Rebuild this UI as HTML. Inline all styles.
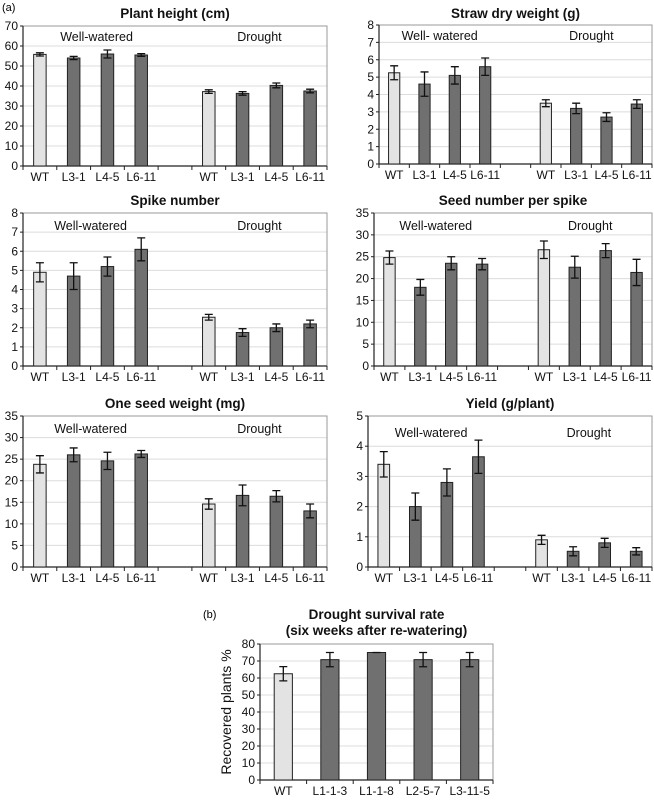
<!DOCTYPE html>
<html><head><meta charset="utf-8"><style>
body{margin:0;background:#fff;}
svg{display:block;font-family:"Liberation Sans",Arial,sans-serif;}
</style></head><body>
<svg id="fig" width="654" height="800" viewBox="0 0 654 800" xmlns="http://www.w3.org/2000/svg">
<text x="2" y="11" font-size="11">(a)</text>
<text x="203" y="618" font-size="11">(b)</text>
</svg>
<script>
const lineCats = ["WT","L3-1","L4-5","L6-11","","WT","L3-1","L4-5","L6-11"];
const heightVals = [55.8,54,56,55.5,null,37.2,36.3,40.3,37.5];
const heightErr = [0.8,0.8,2,0.7,null,0.9,0.9,1.2,0.9];
const strawVals = [5.25,4.6,5.1,5.6,null,3.5,3.2,2.7,3.45];
const strawErr = [0.4,0.7,0.5,0.5,null,0.2,0.3,0.25,0.25];
const spikeVals = [4.9,4.7,5.2,6.1,null,2.55,1.75,2.0,2.2];
const spikeErr = [0.5,0.7,0.5,0.6,null,0.15,0.2,0.2,0.2];
const seedNumVals = [24.8,18,23.5,23.3,null,26.6,22.6,26.4,21.4];
const seedNumErr = [1.5,1.8,1.5,1.3,null,2,2.5,1.6,3];
const seedWtVals = [23.8,26,24.6,26.2,null,14.6,16.6,16.4,13];
const seedWtErr = [2,1.6,2,0.8,null,1.2,2.4,1.3,1.6];
const yieldVals = [3.4,2.0,2.8,3.65,null,0.9,0.52,0.8,0.52];
const yieldErr = [0.42,0.45,0.45,0.55,null,0.15,0.15,0.15,0.12];
const survCats = ["WT","L1-1-3","L1-1-8","L2-5-7","L3-11-5"];
const survVals = [62.5,70.8,75,70.8,70.8];
const survErr = [4.2,4.2,0,4.2,4.2];

const NS="http://www.w3.org/2000/svg";
const svg=document.getElementById('fig');
function mk(tag,attrs,parent){const e=document.createElementNS(NS,tag);for(const k in attrs)e.setAttribute(k,attrs[k]);(parent||svg).appendChild(e);return e;}

function panel(o){
  const g=mk('g',{});
  
  
  const n=o.cats.length;
  const sx=i=>o.L+(o.R-o.L)*(i+0.5)/n;
  const sy=v=>o.B-(o.B-o.T)*v/o.max;
  for(let v=o.step;v<=o.max+1e-9;v+=o.step){
    const l=mk('line',{x1:o.L,x2:o.R,y1:sy(v),y2:sy(v),stroke:'#dcdcdc','stroke-width':1},g);
    
    
  }
  const fr=mk('rect',{x:o.L,y:o.T,width:o.R-o.L,height:o.B-o.T,fill:'none',stroke:'#9a9a9a','stroke-width':1},g);
  
  
  const ya=mk('line',{x1:o.L,x2:o.L,y1:o.T,y2:o.B,stroke:'#222','stroke-width':1.2},g);
  
  
  const xa=mk('line',{x1:o.L,x2:o.R,y1:o.B,y2:o.B,stroke:'#222','stroke-width':1.2},g);
  
  
  for(let v=0;v<=o.max+1e-9;v+=o.step){
    mk('line',{x1:o.L-3,x2:o.L,y1:sy(v),y2:sy(v),stroke:'#222'},g);
    const t=mk('text',{x:o.L-5,y:sy(v)+4,'text-anchor':'end','font-size':12,fill:'#111'},g);
    t.textContent=String(Math.round(v));
    
    
  }
  for(let i=0;i<=n;i++){
    const x=o.L+(o.R-o.L)*i/n;
    mk('line',{x1:x,x2:x,y1:o.B,y2:o.B+4,stroke:'#222'},g);
  }
  const bw=(o.R-o.L)/n*o.bwf;
  o.vals.forEach((v,i)=>{
    if(v==null)return;
    const x=sx(i);
    const wt=o.cats[i]==='WT';
    const r=mk('rect',{x:x-bw/2,y:sy(v),width:bw,height:o.B-sy(v),fill:wt?'#e3e3e3':'#707070',stroke:'#222','stroke-width':1},g);
    
    
    const e=o.err[i];
    if(e>0){
      const eb=mk('path',{d:`M${x},${sy(v+e)}V${sy(v-e)}M${x-4},${sy(v+e)}H${x+4}M${x-4},${sy(v-e)}H${x+4}`,stroke:'#111','stroke-width':1.3,fill:'none'},g);
      
      
    } else {
      mk('path',{d:`M${x-4},${sy(v)}H${x+4}`,stroke:'#111','stroke-width':1.3},g);
    }
  });
  o.cats.forEach((c,i)=>{
    if(!c)return;
    const t=mk('text',{x:sx(i),y:o.B+15,'text-anchor':'middle','font-size':12,fill:'#111'},g);
    t.textContent=c;
    
    
  });
  o.title.forEach((tt,k)=>{
    const t=mk('text',{x:(o.L+o.R)/2,y:o.titleY+k*16,'text-anchor':'middle','font-size':13.5,'font-weight':'bold',fill:'#111'},g);
    t.textContent=tt;
    
    
  });
  if(o.groups){
    const a=mk('text',{x:(sx(1)+sx(2))/2+o.gdx,y:o.T+o.gy,'text-anchor':'middle','font-size':12.5,fill:'#111'},g);
    a.textContent=o.groups[0];
    
    
    const b=mk('text',{x:(sx(6)+sx(7))/2,y:o.T+o.gy,'text-anchor':'middle','font-size':12.5,fill:'#111'},g);
    b.textContent='Drought';
    
    
  }
  if(o.ytitle){
    const t=mk('text',{x:0,y:0,'text-anchor':'middle','font-size':14,fill:'#111',transform:`translate(${o.L-29},${(o.T+o.B)/2}) rotate(-90)`},g);
    t.textContent=o.ytitle;
    
    
  }
}
panel({name:'plant-height-chart',L:23,R:327,T:26,B:166,max:70,step:10,cats:lineCats,vals:heightVals,err:heightErr,bwf:0.37,title:['Plant height (cm)'],titleY:18,groups:['Well-watered'],gdx:6,gy:15});
panel({name:'straw-dry-weight-chart',L:379,R:652,T:25,B:164,max:8,step:1,cats:lineCats,vals:strawVals,err:strawErr,bwf:0.37,title:['Straw dry weight (g)'],titleY:18,groups:['Well- watered'],gdx:0,gy:15});
panel({name:'spike-number-chart',L:23,R:327,T:213,B:366,max:8,step:1,cats:lineCats,vals:spikeVals,err:spikeErr,bwf:0.37,title:['Spike number'],titleY:205,groups:['Well-watered'],gdx:0,gy:17});
panel({name:'seed-number-chart',L:374,R:652,T:213,B:366,max:35,step:5,cats:lineCats,vals:seedNumVals,err:seedNumErr,bwf:0.37,title:['Seed number per spike'],titleY:205,groups:['Well-watered'],gdx:0,gy:17});
panel({name:'one-seed-weight-chart',L:23,R:327,T:416,B:567,max:35,step:5,cats:lineCats,vals:seedWtVals,err:seedWtErr,bwf:0.37,title:['One seed weight (mg)'],titleY:408,groups:['Well-watered'],gdx:0,gy:17});
panel({name:'yield-chart',L:368,R:652,T:416,B:567,max:5,step:1,cats:lineCats,vals:yieldVals,err:yieldErr,bwf:0.37,title:['Yield (g/plant)'],titleY:408,groups:['Well-watered'],gdx:0,gy:21});
panel({name:'survival-rate-chart',L:260,R:493,T:644,B:780,max:80,step:10,cats:survCats,vals:survVals,err:survErr,bwf:0.39,title:['Drought survival rate','(six weeks after re-watering)'],titleY:619,ytitle:'Recovered plants  %'});
</script>
</body></html>
